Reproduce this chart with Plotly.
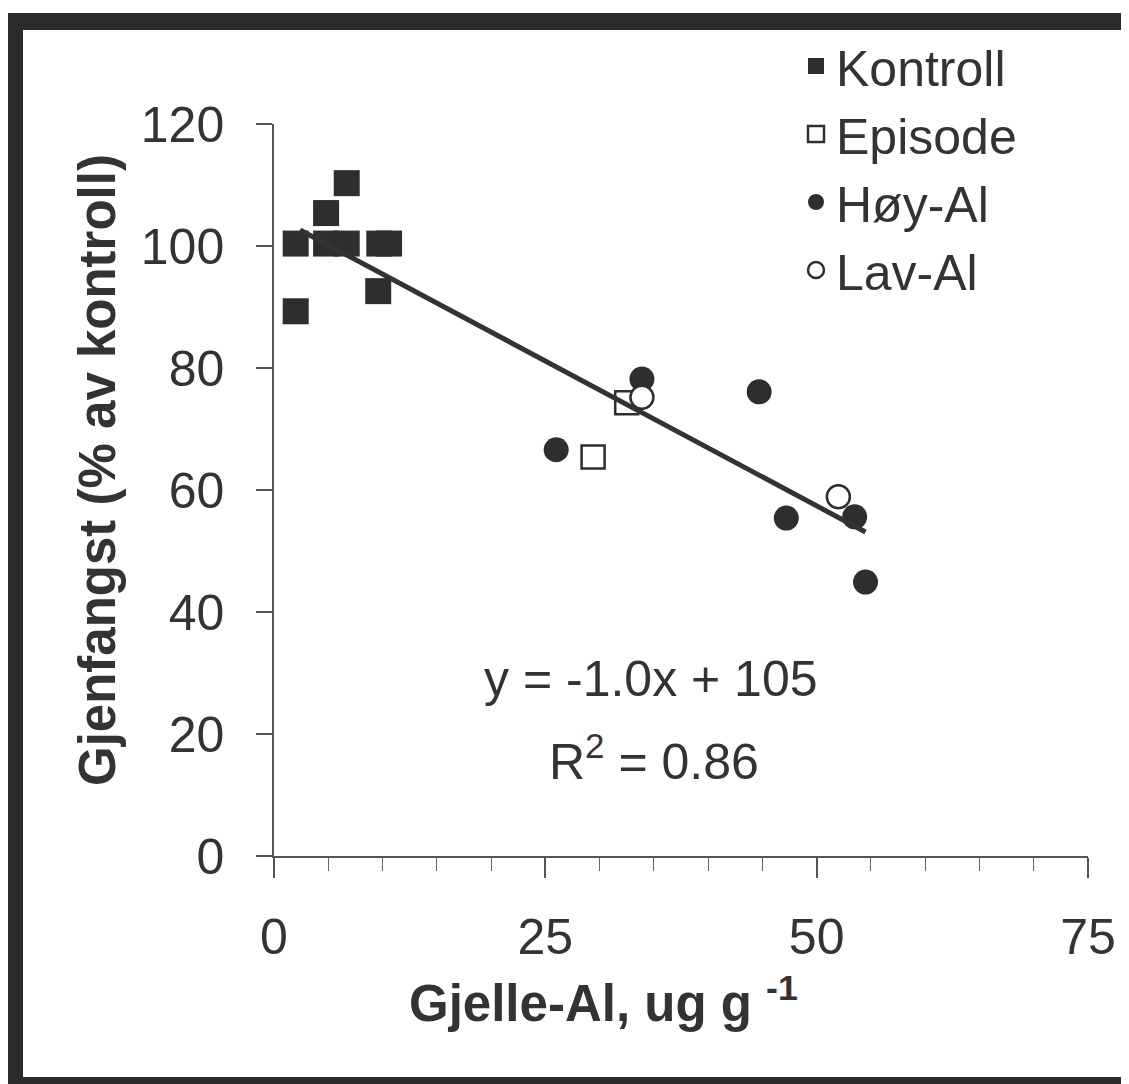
import plotly.graph_objects as go

# ---- data ----
kontroll_x = [2.0, 2.0, 4.8, 4.8, 6.7, 6.7, 9.6, 9.7, 10.6]
kontroll_y = [100.4, 89.3, 105.4, 100.4, 110.3, 100.4, 92.6, 100.4, 100.4]

episode_x = [32.5, 29.4]
episode_y = [74.3, 65.4]

hoy_x = [33.9, 26.0, 44.7, 47.2, 53.5, 54.5]
hoy_y = [78.2, 66.6, 76.1, 55.4, 55.6, 44.9]

lav_x = [33.9, 52.0]
lav_y = [75.2, 58.9]

fit_slope = -0.95
fit_intercept = 104.9
fit_x_range = [2.4, 54.5]

x_ticks = [0, 25, 50, 75]
y_ticks = [0, 20, 40, 60, 80, 100, 120]

eq_text = "y = -1.0x + 105"
r2_text = "R<sup>2</sup> = 0.86"
x_title = "<b>Gjelle-Al, ug g <sup>-1</sup></b>"
y_title = "<b>Gjenfangst (% av kontroll)</b>"

# ---- layout geometry (page body has an 8px margin) ----
OFF = 8
W, H = 1129 - OFF, 1084 - OFF
X0, X1 = 274 - OFF, 1088 - OFF      # plot left/right in figure px
Y0, Y1 = 124 - OFF, 856 - OFF       # plot top/bottom in figure px
L, R, T, B = X0, W - X1, Y0, H - Y1
PW, PH = X1 - X0, Y1 - Y0


def px(xp):
    """screen x (reference pixels) -> paper x"""
    return (xp - OFF - X0) / PW


def py(yp):
    """screen y (reference pixels) -> paper y"""
    return (Y1 - (yp - OFF)) / PH


FONT = "Liberation Sans, Arial, sans-serif"
INK = "#333333"
DARK = "#2e2e2e"

fig = go.Figure()
fig.add_trace(go.Scatter(
    x=kontroll_x, y=kontroll_y, mode="markers", name="Kontroll",
    marker=dict(symbol="square", size=26, color=DARK, line=dict(width=0))))
fig.add_trace(go.Scatter(
    x=episode_x, y=episode_y, mode="markers", name="Episode",
    marker=dict(symbol="square", size=23, color="white", line=dict(width=2.5, color=DARK))))
fig.add_trace(go.Scatter(
    x=hoy_x, y=hoy_y, mode="markers", name="Høy-Al",
    marker=dict(symbol="circle", size=25, color=DARK, line=dict(width=0))))
fig.add_trace(go.Scatter(
    x=lav_x, y=lav_y, mode="markers", name="Lav-Al",
    marker=dict(symbol="circle", size=23, color="white", line=dict(width=2.5, color=DARK))))

line_y = [fit_slope * v + fit_intercept for v in fit_x_range]
fig.add_trace(go.Scatter(
    x=fit_x_range, y=line_y, mode="lines", showlegend=False,
    line=dict(color="#333333", width=5)))

fig.update_layout(
    width=W, height=H,
    margin=dict(l=L, r=R, t=T, b=B, autoexpand=False),
    paper_bgcolor="white", plot_bgcolor="white",
    font=dict(family=FONT, size=50, color=INK),
    showlegend=True,
    legend=dict(x=px(796), y=py(27), xanchor="left", yanchor="top",
                bgcolor="rgba(0,0,0,0)", font=dict(size=50, color=INK),
                itemsizing="trace"),
)

fig.update_xaxes(
    range=[0, 75], tickmode="array", tickvals=x_ticks,
    ticks="outside", ticklen=20, tickwidth=1.5, tickcolor="#555",
    showline=True, linecolor="#555", linewidth=1.5,
    showgrid=False, zeroline=False,
    minor=dict(dtick=5, ticks="outside", ticklen=13, tickwidth=1.2, tickcolor="#666", showgrid=False),
    ticklabelstandoff=16,
    tickfont=dict(size=50, color=INK),
)
fig.update_yaxes(
    range=[0, 120], tickmode="array", tickvals=y_ticks,
    ticks="outside", ticklen=16, tickwidth=1.5, tickcolor="#555",
    showline=True, linecolor="#555", linewidth=1.5,
    showgrid=False, zeroline=False,
    ticklabelstandoff=22,
    tickfont=dict(size=50, color=INK),
)

# axis titles (placed like the reference, slightly off-centre)
fig.add_annotation(x=px(603), y=py(1000), xref="paper", yref="paper", text=x_title,
                   showarrow=False, font=dict(size=51, color=INK),
                   xanchor="center", yanchor="middle")
fig.add_annotation(x=px(97), y=py(470), xref="paper", yref="paper", text=y_title,
                   showarrow=False, textangle=-90, font=dict(size=51, color=INK),
                   xanchor="center", yanchor="middle")

# regression equation
fig.add_annotation(x=34.7, y=29, xref="x", yref="y", text=eq_text, showarrow=False,
                   font=dict(size=50, color=INK), xanchor="center", yanchor="middle")
fig.add_annotation(x=35.0, y=16, xref="x", yref="y", text=r2_text, showarrow=False,
                   font=dict(size=50, color=INK), xanchor="center", yanchor="middle")

# scanned frame around the picture (reference screen pixels)
border = "#2b2b2b"
frame = [
    (7, 13, 1129, 30),
    (7, 13, 23, 1084),
    (7, 1077, 1129, 1084),
    (1122, 13, 1129, 1084),
]
for x0, y0, x1, y1 in frame:
    fig.add_shape(type="rect", xref="paper", yref="paper",
                  x0=px(x0), x1=px(x1), y0=py(y1), y1=py(y0),
                  fillcolor=border, line=dict(width=0), layer="above")

fig.write_html("out.html")
